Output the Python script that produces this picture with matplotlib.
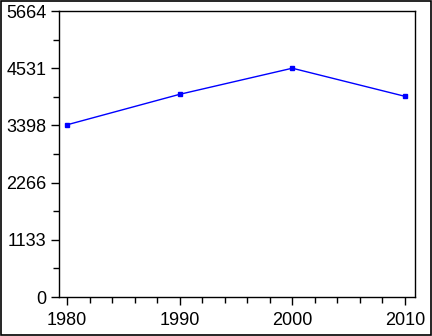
import matplotlib
matplotlib.use('Agg')
import matplotlib.pyplot as plt
from matplotlib.ticker import MultipleLocator, FixedLocator

years = [1980, 1990, 2000, 2010]
values = [3410, 4014, 4531, 3974]
y_ticks = [0, 1133, 2266, 3398, 4531, 5664]

plt.rcParams['font.family'] = ['Liberation Sans Narrow', 'Liberation Sans', 'DejaVu Sans']

fig = plt.figure(figsize=(4.32, 3.36), dpi=100)
ax = fig.add_axes([59 / 432, 1 - 297 / 336, 356 / 432, 286 / 336])

ax.plot(years, values, color='blue', linewidth=1.0, marker='s', markersize=2.5)

ax.set_xlim(1979.29, 2010.89)
ax.set_ylim(0, 5664)
ax.set_xticks(years)
ax.xaxis.set_minor_locator(MultipleLocator(2))
ax.set_yticks(y_ticks)
minor_y = [(a + b) / 2 for a, b in zip(y_ticks[:-1], y_ticks[1:])]
ax.yaxis.set_minor_locator(FixedLocator(minor_y))

ax.tick_params(which='major', direction='out', length=6, width=1, labelsize=13, colors='black')
ax.tick_params(which='minor', direction='out', length=4, width=1)
ax.tick_params(axis='x', which='major', pad=4.5)
ax.tick_params(axis='y', which='major', pad=3)
for s in ax.spines.values():
    s.set_linewidth(1)

# frame round the whole figure
fig.patches.append(plt.Rectangle((0.002, 0.003), 0.995, 0.994, transform=fig.transFigure,
                                 fill=False, edgecolor='black', linewidth=1.2))

fig.savefig('out.png', dpi=100)
